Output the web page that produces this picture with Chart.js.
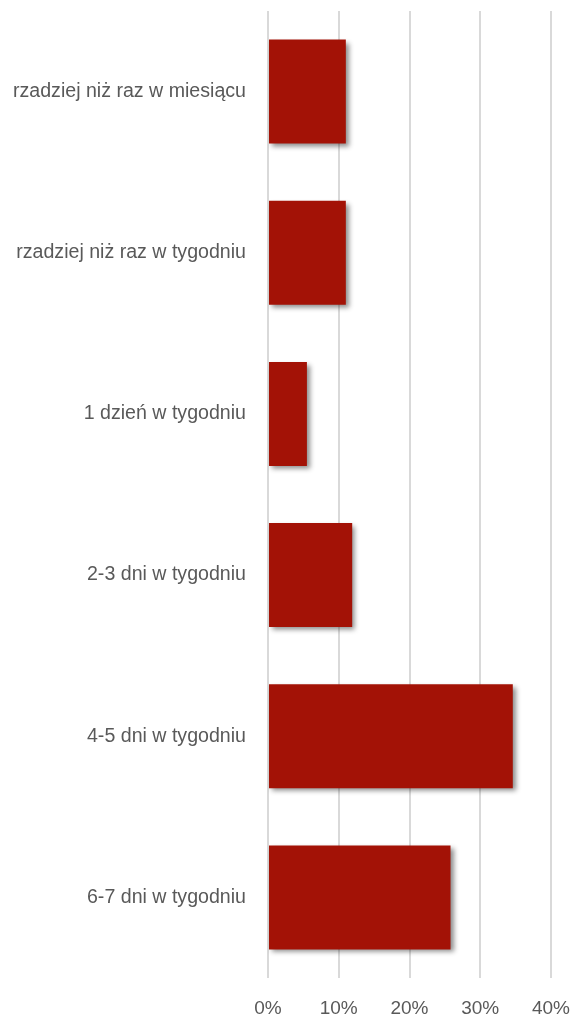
<!DOCTYPE html>
<html>
<head>
<meta charset="utf-8">
<script src="https://cdn.jsdelivr.net/npm/chart.js@4"></script>
<style>
  html, body { margin: 0; padding: 0; background: #fff; }
  #wrap { width: 571px; height: 1019px; }
</style>
</head>
<body>
<div id="wrap"><canvas id="chart"></canvas></div>
<script>
const categories = [
  'rzadziej niż raz w miesiącu',
  'rzadziej niż raz w tygodniu',
  '1 dzień w tygodniu',
  '2-3 dni w tygodniu',
  '4-5 dni w tygodniu',
  '6-7 dni w tygodniu'
];
const shares = [11, 11, 5.5, 11.9, 34.6, 25.8];
const tickValues = [0, 10, 20, 30, 40];

// soft drop shadow under the bars
const barShadow = {
  id: 'barShadow',
  beforeDatasetsDraw(chart) {
    const c = chart.ctx;
    c.save();
    c.shadowColor = 'rgba(0,0,0,0.45)';
    c.shadowBlur = 5;
    c.shadowOffsetX = 3;
    c.shadowOffsetY = 3;
  },
  afterDatasetsDraw(chart) {
    chart.ctx.restore();
  }
};

// fixed axis boxes so the plot area lands where it does in the picture
function noPad(axis) {
  axis.paddingLeft = axis.paddingRight = axis.paddingTop = axis.paddingBottom = 0;
}

new Chart(document.getElementById('chart'), {
  type: 'bar',
  data: {
    labels: categories,
    datasets: [{
      data: shares,
      backgroundColor: '#a31206',
      borderWidth: 0,
      categoryPercentage: 1,
      barPercentage: 0.645
    }]
  },
  plugins: [barShadow],
  options: {
    indexAxis: 'y',
    responsive: true,
    maintainAspectRatio: false,
    animation: false,
    layout: { padding: { top: 11, right: 20, left: 0, bottom: 0 } },
    plugins: { legend: { display: false }, tooltip: { enabled: false } },
    scales: {
      x: {
        min: 0,
        max: 40,
        afterBuildTicks(axis) { axis.ticks = tickValues.map(v => ({ value: v })); },
        afterFit(axis) { axis.height = 41; noPad(axis); },
        grid: { color: '#d9d9d9', lineWidth: 2, drawTicks: false },
        border: { display: false },
        ticks: {
          padding: 19,
          color: '#595959',
          font: { family: '"Liberation Sans", Arial, sans-serif', size: 19 },
          callback: v => v + '%'
        }
      },
      y: {
        afterFit(axis) { axis.width = 268; noPad(axis); },
        grid: { display: false, drawTicks: false },
        border: { display: false },
        ticks: {
          padding: 22,
          color: '#595959',
          font: { family: '"Liberation Sans", Arial, sans-serif', size: 19.6 }
        }
      }
    }
  }
});
</script>
</body>
</html>
